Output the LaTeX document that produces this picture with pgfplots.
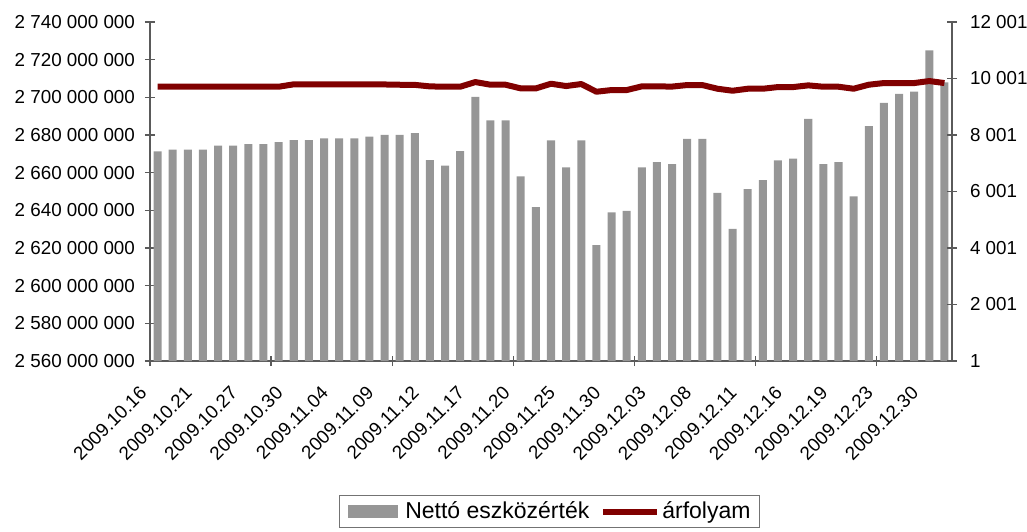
\documentclass[border=0pt]{standalone}
\usepackage{fontspec}
\setmainfont{Liberation Sans}
\usepackage{pgfplots}
\pgfplotsset{compat=1.18}
\definecolor{bargray}{RGB}{150,150,150}
\definecolor{darkred}{RGB}{128,0,0}
\definecolor{axgray}{RGB}{90,90,90}
\newcommand{\tickfont}{\fontsize{9.4pt}{11pt}\selectfont}
\newcommand{\legfont}{\fontsize{11.5pt}{13pt}\selectfont}
\begin{document}
\begin{tikzpicture}
\begin{axis}[
  at={(0,0)}, anchor=south west,
  width=401pt, height=169.5pt, scale only axis,
  xmin=-0.5, xmax=52.5,
  ymin=2560, ymax=2740,
  ybar, bar width=0.53,
  axis y line*=left, axis x line*=bottom,
  axis line style={draw=axgray, line width=0.6pt},
  tick style={draw=axgray, line width=0.6pt},
  tick align=center, major tick length=5pt,
  ytick={2560,2580,2600,2620,2640,2660,2680,2700,2720,2740},
  yticklabels={2 560 000 000,2 580 000 000,2 600 000 000,2 620 000 000,2 640 000 000,2 660 000 000,2 680 000 000,2 700 000 000,2 720 000 000,2 740 000 000},
  yticklabel style={font=\tickfont, xshift=-1.5pt},
  xtick={-0.5,7.5,15.5,23.5,31.5,39.5,47.5},
  xticklabels={},
  extra x ticks={0,3,6,9,12,15,18,21,24,27,30,33,36,39,42,45,48,51},
  extra x tick labels={2009.10.16,2009.10.21,2009.10.27,2009.10.30,2009.11.04,2009.11.09,2009.11.12,2009.11.17,2009.11.20,2009.11.25,2009.11.30,2009.12.03,2009.12.08,2009.12.11,2009.12.16,2009.12.19,2009.12.23,2009.12.30},
  extra x tick style={major tick length=0pt, xticklabel style={font=\tickfont, xshift=-4.7pt, yshift=-12pt, rotate=45, anchor=east}},
]
\addplot[fill=bargray, draw=none] coordinates {
(0,2671.3) (1,2672.3) (2,2672.3) (3,2672.3) (4,2674.3) (5,2674.3) (6,2675.2) (7,2675.2)
(8,2676.2) (9,2677.3) (10,2677.3) (11,2678.2) (12,2678.2) (13,2678.2) (14,2679.1) (15,2680.1)
(16,2680.1) (17,2681.0) (18,2666.7) (19,2663.8) (20,2671.5) (21,2700.2) (22,2687.8) (23,2687.8)
(24,2658.0) (25,2641.7) (26,2677.1) (27,2662.8) (28,2677.1) (29,2621.5) (30,2638.9) (31,2639.7)
(32,2662.8) (33,2665.6) (34,2664.5) (35,2678.0) (36,2678.0) (37,2649.3) (38,2630.2) (39,2651.3)
(40,2656.0) (41,2666.5) (42,2667.4) (43,2688.6) (44,2664.5) (45,2665.6) (46,2647.4) (47,2684.7)
(48,2697.1) (49,2701.9) (50,2703.0) (51,2725.0) (52,2708.0)
};
\end{axis}
\begin{axis}[
  at={(0,0)}, anchor=south west,
  width=401pt, height=169.5pt, scale only axis,
  xmin=-0.5, xmax=52.5,
  ymin=1, ymax=12001,
  scaled y ticks=false,
  axis y line*=right, axis x line=none,
  axis line style={draw=axgray, line width=0.6pt},
  tick style={draw=axgray, line width=0.6pt},
  tick align=center, major tick length=5pt,
  ytick={1,2001,4001,6001,8001,10001,12001},
  yticklabels={1,2 001,4 001,6 001,8 001,10 001,12 001},
  yticklabel style={font=\tickfont, xshift=3pt},
  legend columns=2,
  legend style={at={(0.498,-0.4446)}, anchor=center, draw=black!55, line width=0.5pt,
    font=\legfont, inner xsep=4.5pt, inner ysep=3pt,
    nodes={inner sep=0pt}, column sep=0pt},
]
\addlegendimage{legend image code/.code={\fill[bargray] (0pt,-3pt) rectangle (24.5pt,3pt); \path (28pt,0pt);}}
\addlegendentry{Nettó eszközérték}
\addplot[draw=darkred, line width=3pt, line join=round, mark=none,
  legend image code/.code={\path (-5.5pt,0pt); \draw[darkred, line width=3pt] (0pt,0pt) -- (27pt,0pt); \path (28pt,0pt);}] coordinates {
(0,9710) (1,9710) (2,9710) (3,9710) (4,9710) (5,9710) (6,9710) (7,9710)
(8,9710) (9,9795) (10,9795) (11,9795) (12,9795) (13,9795) (14,9795) (15,9790)
(16,9780) (17,9775) (18,9722) (19,9710) (20,9710) (21,9875) (22,9781) (23,9781)
(24,9651) (25,9651) (26,9816) (27,9734) (28,9805) (29,9533) (30,9592) (31,9592)
(32,9722) (33,9722) (34,9715) (35,9769) (36,9769) (37,9639) (38,9568) (39,9639)
(40,9639) (41,9698) (42,9698) (43,9758) (44,9710) (45,9710) (46,9639) (47,9781)
(48,9840) (49,9840) (50,9840) (51,9911) (52,9840)
};
\addlegendentry{árfolyam}
\end{axis}
\pgfresetboundingbox
\path[use as bounding box] (-75pt,-85.15pt) rectangle (438.5pt,180.5pt);
\end{tikzpicture}
\end{document}
